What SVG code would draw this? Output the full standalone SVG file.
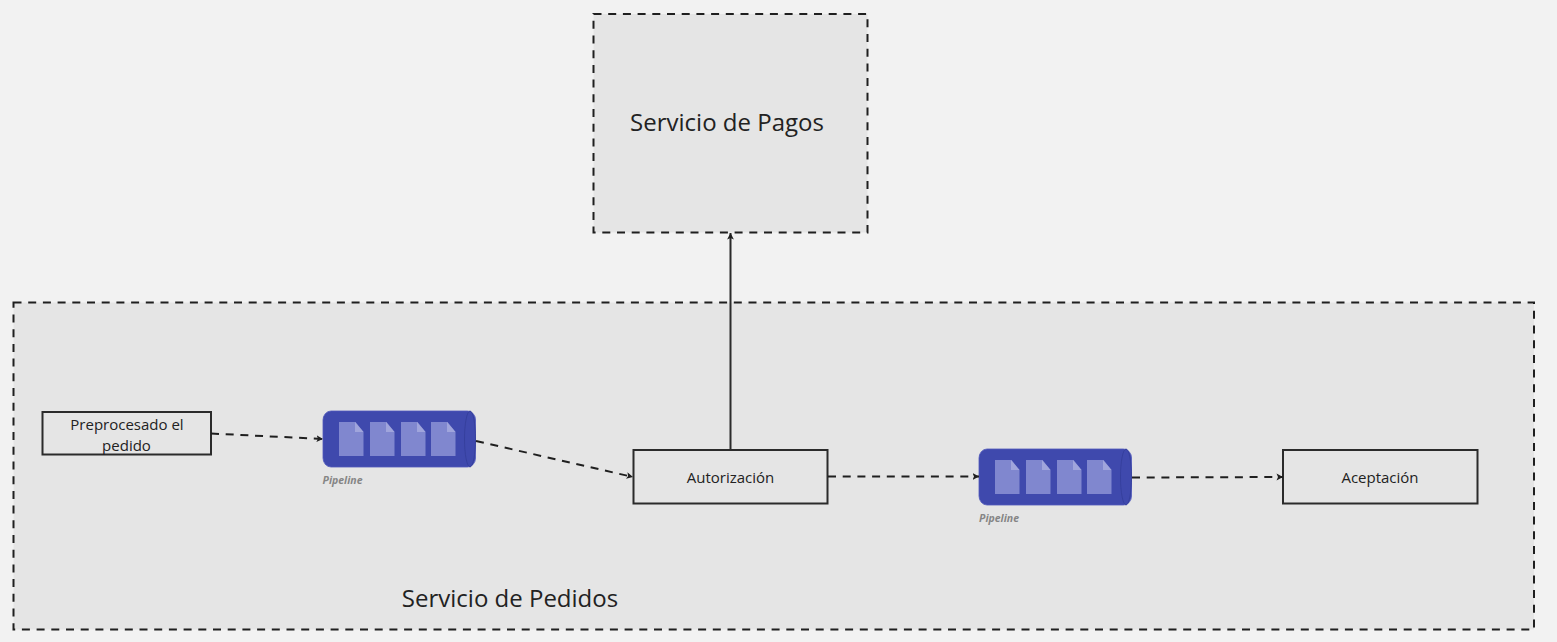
<svg xmlns="http://www.w3.org/2000/svg" xmlns:xlink="http://www.w3.org/1999/xlink" width="1557" height="642" viewBox="0 0 1557 642">
<style>
text{font-family:"Open Sans","Noto Sans",sans-serif;fill:#222;text-anchor:middle}
.zone{fill:#e5e5e5;stroke:#1f1f1f;stroke-width:2;stroke-dasharray:8 6.7}
.box{fill:#e5e5e5;stroke:#2b2b2b;stroke-width:2}
.big{font-size:24px}
.small{font-size:15px}
.pl{font-size:10.5px;font-weight:700;font-style:italic;fill:#858585;text-anchor:start}
.dash{fill:none;stroke:#1f1f1f;stroke-width:2;stroke-dasharray:8 6.7}
.solid{fill:none;stroke:#2b2b2b;stroke-width:2}
.doc{fill:#8087cf}
.fold{fill:#a0a5dc}
</style>
<defs>
<marker id="arrow" markerUnits="userSpaceOnUse" markerWidth="8" markerHeight="8" refX="6.5" refY="4" orient="auto">
<path d="M0 .6L6.5 4L0 7.4L1.5 4Z" fill="#1f1f1f"/>
</marker>
<g id="doc">
<path class="doc" d="M0 0H16.5L24.5 10V34H0Z"/>
<path class="fold" d="M16 0L24.5 10H16Z"/>
</g>
<g id="queue">
<rect x="0" y="0" width="152.500" height="56" rx="8" ry="9" fill="#3f49ad" stroke="#5059bb" stroke-width=".8"/>
<ellipse cx="147" cy="28" rx="5.500" ry="28" fill="#3f49ad" stroke="#343d99" stroke-width=".8"/>
<use xlink:href="#doc" x="16" y="11"/>
<use xlink:href="#doc" x="47" y="11"/>
<use xlink:href="#doc" x="78" y="11"/>
<use xlink:href="#doc" x="108" y="11"/>
</g>
</defs>
<rect width="1557" height="642" fill="#f2f2f2"/>
<g id="servicio-pagos">
<rect class="zone" x="593.500" y="14" width="274" height="218.500"/>
<text class="big" x="727" y="131">Servicio de Pagos</text>
</g>
<g id="servicio-pedidos">
<rect class="zone" x="13.500" y="302.500" width="1520.500" height="327"/>
<text class="big" x="510" y="607">Servicio de Pedidos</text>
</g>
<g id="preprocesado">
<rect class="box" x="42.500" y="412" width="168.500" height="42.500"/>
<text class="small" x="127" y="430">Preprocesado el</text>
<text class="small" x="126.500" y="451">pedido</text>
</g>
<g id="pipeline-1">
<use xlink:href="#queue" x="323" y="411"/>
<text class="pl" x="322.500" y="484">Pipeline</text>
</g>
<g id="autorizacion">
<rect class="box" x="633.500" y="450" width="194" height="53.500"/>
<text class="small" x="730.500" y="483">Autorización</text>
</g>
<g id="pipeline-2">
<use xlink:href="#queue" x="979" y="449"/>
<text class="pl" x="979" y="522">Pipeline</text>
</g>
<g id="aceptacion">
<rect class="box" x="1283" y="450" width="194.500" height="53.500"/>
<text class="small" x="1380" y="483">Aceptación</text>
</g>
<g id="connectors">
<path class="dash" marker-end="url(#arrow)" d="M211 433.500L323 439"/>
<path class="dash" marker-end="url(#arrow)" d="M476 441L633 477"/>
<path class="solid" marker-end="url(#arrow)" d="M730.500 450V233"/>
<path class="dash" marker-end="url(#arrow)" d="M828 476.500H979"/>
<path class="dash" marker-end="url(#arrow)" d="M1132 477.500L1283 477"/>
</g>
</svg>
